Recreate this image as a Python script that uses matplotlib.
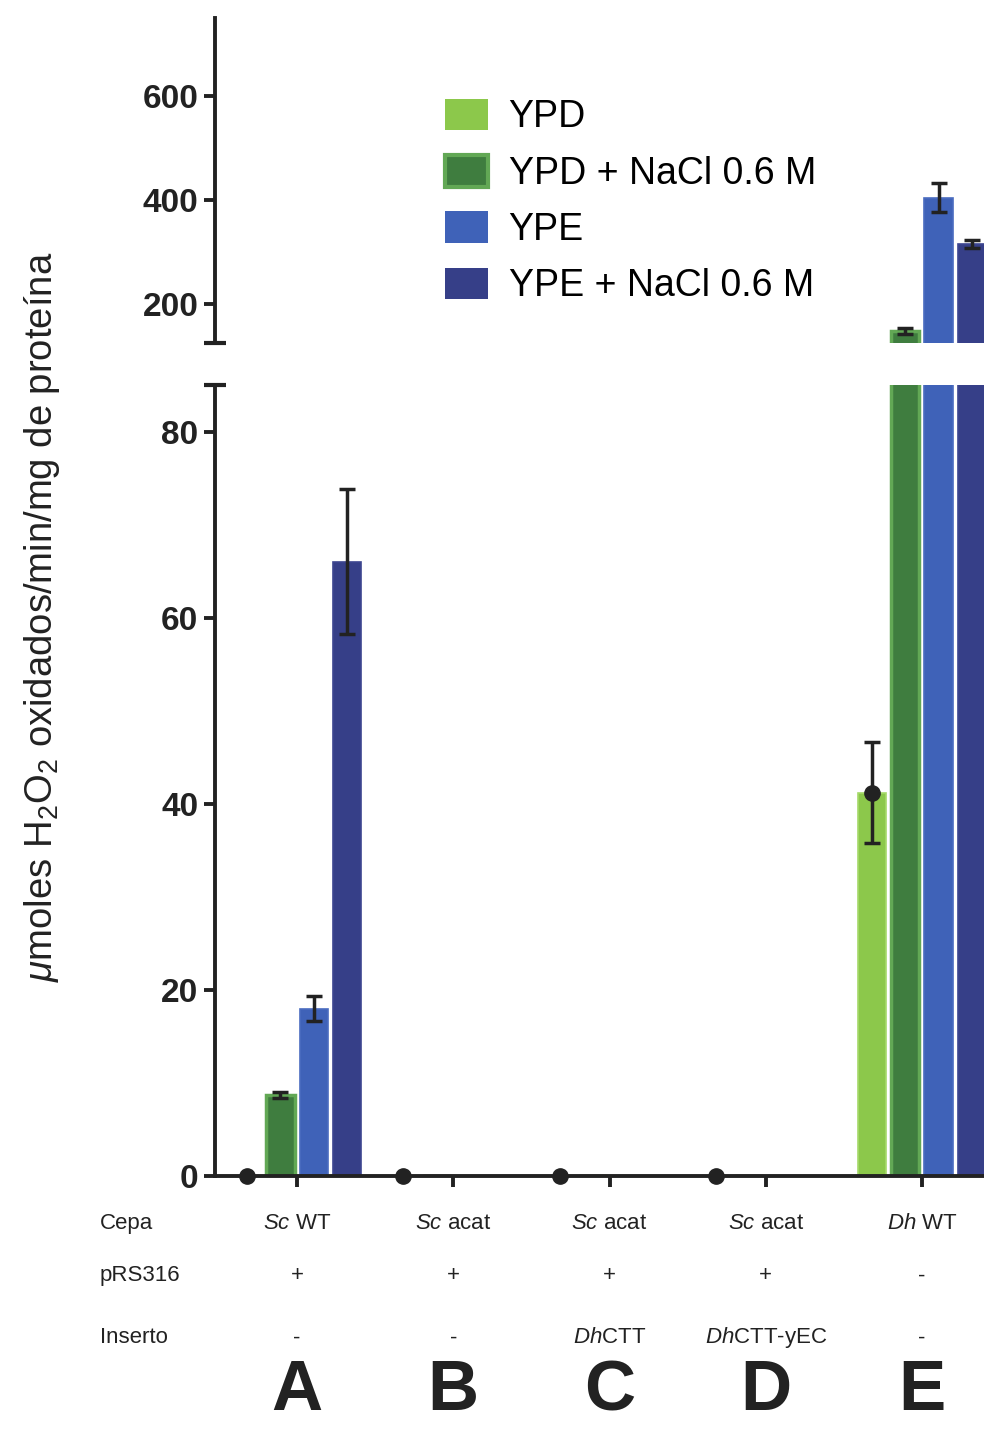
import numpy as np
import matplotlib
matplotlib.use('Agg')
from matplotlib import pyplot as plt
from matplotlib import transforms as mtransforms
from matplotlib.patches import Patch

plt.rcParams['font.family'] = ['Liberation Sans', 'DejaVu Sans']
plt.rcParams['mathtext.fontset'] = 'custom'
plt.rcParams['mathtext.rm'] = 'Liberation Sans'
plt.rcParams['mathtext.it'] = 'Liberation Sans:italic'
plt.rcParams['mathtext.bf'] = 'Liberation Sans:bold'

# Data
groups = ['A', 'B', 'C', 'D', 'E']
cepa = [r'$\it{Sc}$ WT', r'$\it{Sc}$ acat', r'$\it{Sc}$ acat', r'$\it{Sc}$ acat', r'$\it{Dh}$ WT']
prs316 = ['+', '+', '+', '+', '-']
inserto = ['-', '-', r'$\it{Dh}$CTT', r'$\it{Dh}$CTT-yEC', '-']

series = ['YPD', 'YPD + NaCl 0.6 M', 'YPE', 'YPE + NaCl 0.6 M']
ypd = [0, 0, 0, 0, 41.2]
ypd_err = [0, 0, 0, 0, 5.4]
ypd_nacl = [8.7, 0, 0, 0, 148]
ypd_nacl_err = [0.3, 0, 0, 0, 5]
ype = [18.0, 0, 0, 0, 404]
ype_err = [1.3, 0, 0, 0, 28]
ype_nacl = [66.0, 0, 0, 0, 315]
ype_nacl_err = [7.8, 0, 0, 0, 8]

values = [ypd, ypd_nacl, ype, ype_nacl]
errors = [ypd_err, ypd_nacl_err, ype_err, ype_nacl_err]
fills = ['#8cc84b', '#3f7d3f', '#3f62b8', '#363f88']
edges = ['#a6d96a', '#62a855', '#4a6cc0', '#3d4690']
offsets = [-0.32, -0.106, 0.106, 0.32]
width = 0.18
axcol = '#222222'

fig = plt.figure(figsize=(9.84, 14.29), dpi=100)
ax_top = fig.add_axes([0.2185, 0.760, 0.7815, 0.2274])
ax_bot = fig.add_axes([0.2185, 0.177, 0.7815, 0.5536], sharex=ax_top)

x = np.arange(len(groups))

for ax in (ax_top, ax_bot):
    for i, (vals, errs) in enumerate(zip(values, errors)):
        vals = np.array(vals, dtype=float)
        errs = np.array(errs, dtype=float)
        ax.bar(x + offsets[i], vals, width, color=fills[i], edgecolor=edges[i],
               linewidth=2.5 if i == 1 else 1.2, zorder=2)
        has = vals > 0
        if i == 0 and ax is ax_bot:
            # YPD series is plotted with a mean marker
            ax.plot(x + offsets[i], vals, 'o', color=axcol, markersize=11,
                    zorder=4, clip_on=False)
        ax.errorbar((x + offsets[i])[has], vals[has], yerr=errs[has], fmt='none',
                    ecolor=axcol, elinewidth=2.5, capsize=6, capthick=2.5,
                    zorder=3)
    ax.set_xlim(-0.525, 4.397)
    for side in ('top', 'right'):
        ax.spines[side].set_visible(False)
    for side in ('left', 'bottom'):
        ax.spines[side].set_linewidth(2.8)
        ax.spines[side].set_color(axcol)
    ax.tick_params(axis='y', width=2.8, length=8, color=axcol, labelsize=24, pad=4)

ax_top.set_ylim(125, 750)
ax_top.set_yticks([200, 400, 600])
ax_top.spines['bottom'].set_visible(False)
ax_top.tick_params(axis='x', bottom=False, labelbottom=False)

ax_bot.set_ylim(0, 85)
ax_bot.set_yticks([0, 20, 40, 60, 80])
ax_bot.set_xticks(x)
ax_bot.tick_params(axis='x', width=2.8, length=8, color=axcol, labelbottom=False)

for ax in (ax_top, ax_bot):
    for lab in ax.get_yticklabels():
        lab.set_fontweight('bold')
        lab.set_color(axcol)

# caps where the y axis is broken
ax_top.plot([0], [0], marker='_', markersize=16, mew=3, color=axcol,
            transform=ax_top.transAxes, clip_on=False)
ax_bot.plot([0], [1], marker='_', markersize=16, mew=3, color=axcol,
            transform=ax_bot.transAxes, clip_on=False)

fig.text(0.043, 0.568, r'$\it{\mu}$moles H$_2$O$_2$ oxidados/min/mg de proteína',
         rotation=90, ha='center', va='center', fontsize=27.5, color=axcol)

handles = [Patch(facecolor=f, edgecolor=e, linewidth=3 if i == 1 else 0)
           for i, (f, e) in enumerate(zip(fills, edges))]
ax_top.legend(handles, series, loc='upper left', bbox_to_anchor=(0.452, 0.931),
              bbox_transform=fig.transFigure, frameon=False, fontsize=27,
              handlelength=1.15, handleheight=0.93, labelspacing=0.52,
              handletextpad=0.55, borderpad=0, borderaxespad=0)

# sample descriptions below the axis
trans = mtransforms.blended_transform_factory(ax_bot.transData, fig.transFigure)
rows = [('Cepa', cepa, 0.1436), ('pRS316', prs316, 0.1072), ('Inserto', inserto, 0.0638)]
for name, labels, yy in rows:
    fig.text(0.1016, yy, name, ha='left', va='center', fontsize=16, color=axcol)
    for xi, lab in zip(x, labels):
        fig.text(xi, yy, lab, transform=trans, ha='center', va='center',
                 fontsize=16, color=axcol)

for xi, g in zip(x, groups):
    fig.text(xi, 0.013, g, transform=trans, ha='center', va='baseline',
             fontsize=51, fontweight='bold', color=axcol)

fig.savefig('out.png', dpi=100, facecolor='white')
